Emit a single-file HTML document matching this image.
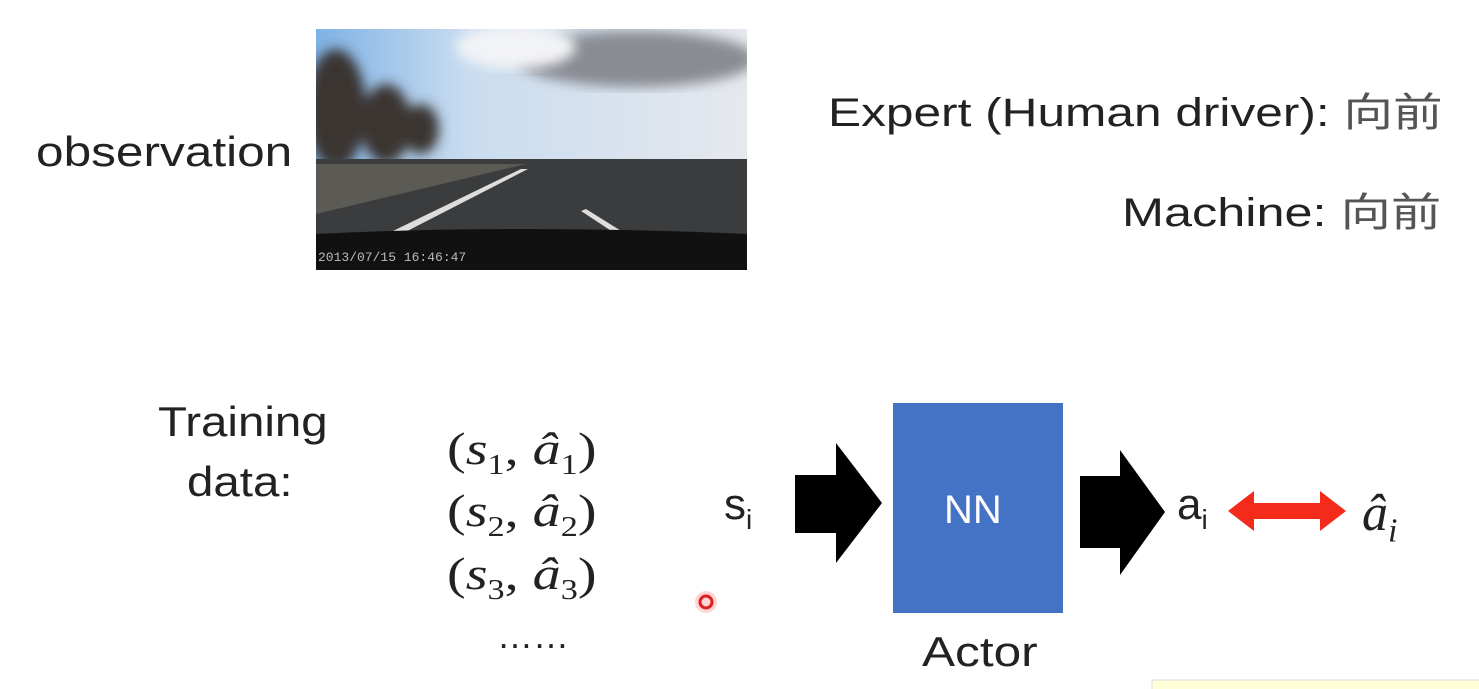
<!DOCTYPE html>
<html><head><meta charset="utf-8"><style>
body{margin:0;width:1479px;height:689px;background:#fff;position:relative;overflow:hidden;font-family:"Liberation Sans","Noto Sans CJK SC",sans-serif;color:#222}
.t{position:absolute;white-space:nowrap;transform-origin:0 0}
.m{font-family:"Liberation Serif","DejaVu Serif",serif}
</style></head><body>
<div class="t" style="left:36px;top:128px;font-size:42px;transform:scaleX(1.18)">observation</div>
<svg style="position:absolute;left:316px;top:29px" width="431" height="241">
<defs><linearGradient id="sky" x1="0" y1="0" x2="1" y2="0"><stop offset="0" stop-color="#7fb2e6"/><stop offset="0.35" stop-color="#c9dcef"/><stop offset="1" stop-color="#e6e8ee"/></linearGradient>
<filter id="b"><feGaussianBlur stdDeviation="6"/></filter></defs>
<rect width="431" height="241" fill="url(#sky)"/>
<ellipse cx="320" cy="30" rx="120" ry="28" fill="#8a8c93" filter="url(#b)"/>
<ellipse cx="200" cy="18" rx="60" ry="22" fill="#f2f3f6" filter="url(#b)"/>
<g filter="url(#b)"><ellipse cx="20" cy="80" rx="30" ry="60" fill="#3a3530"/><ellipse cx="70" cy="95" rx="25" ry="40" fill="#3a3530"/><ellipse cx="105" cy="100" rx="18" ry="25" fill="#3a3530"/></g>
<rect x="0" y="130" width="431" height="111" fill="#3b3c3e"/>
<path d="M0 135 L210 135 L0 185Z" fill="#5b5a55"/>
<path d="M50 215 L205 140 L212 140 L62 217Z" fill="#ddd"/>
<path d="M270 180 L310 205 L303 207 L265 182Z" fill="#ddd"/>
<path d="M0 205 Q200 195 431 205 L431 241 L0 241Z" fill="#111"/>
<text x="2" y="232" font-size="13" fill="#bbb" font-family="Liberation Mono">2013/07/15 16:46:47</text>
</svg>
<div class="t" style="left:828px;top:80px;font-size:40px;transform:scaleX(1.24)">Expert (Human driver): <span style="color:#555">向前</span></div>
<div class="t" style="left:1122px;top:180px;font-size:40px;transform:scaleX(1.26)">Machine: <span style="color:#555">向前</span></div>
<div class="t" style="left:158px;top:398px;font-size:42px;transform:scaleX(1.13)">Training</div>
<div class="t" style="left:187px;top:458px;font-size:42px;transform:scaleX(1.13)">data:</div>
<div class="t m" style="left:447px;top:422px;font-size:46px;transform:scaleX(1.22)">(<i>s</i><sub style="font-size:28px">1</sub>, <i>â</i><sub style="font-size:28px">1</sub>)</div>
<div class="t m" style="left:447px;top:484px;font-size:46px;transform:scaleX(1.22)">(<i>s</i><sub style="font-size:28px">2</sub>, <i>â</i><sub style="font-size:28px">2</sub>)</div>
<div class="t m" style="left:447px;top:547px;font-size:46px;transform:scaleX(1.22)">(<i>s</i><sub style="font-size:28px">3</sub>, <i>â</i><sub style="font-size:28px">3</sub>)</div>
<div class="t" style="left:497px;top:615px;font-size:36px">……</div>
<div class="t" style="left:724px;top:480px;font-size:44px">s<sub style="font-size:28px">i</sub></div>
<svg style="position:absolute;left:0;top:0" width="1479" height="689">
<polygon points="795,475 836,475 836,443 882,503 836,563 836,533 795,533" fill="#000"/>
<rect x="893" y="403" width="170" height="210" fill="#4472c4"/>
<polygon points="1080,476 1120,476 1120,450 1165,512 1120,575 1120,548 1080,548" fill="#000"/>
<polygon points="1228,511 1254,491 1254,503 1320,503 1320,491 1346,511 1320,531 1320,519 1254,519 1254,531" fill="#f42a1a"/>
<circle cx="706" cy="602" r="11" fill="#ffd6d6"/>
<circle cx="706" cy="602" r="6" fill="none" stroke="#e02020" stroke-width="3"/>
<rect x="1152" y="680" width="330" height="12" fill="#ffffd8" stroke="#ddd"/>
</svg>
<div class="t" style="left:944px;top:488px;font-size:40px;color:#fff">NN</div>
<div class="t" style="left:922px;top:628px;font-size:42px;transform:scaleX(1.18)">Actor</div>
<div class="t" style="left:1177px;top:480px;font-size:44px">a<sub style="font-size:28px">i</sub></div>
<div class="t m" style="left:1362px;top:484px;font-size:52px"><i>â</i><sub style="font-size:34px"><i>i</i></sub></div>
</body></html>
